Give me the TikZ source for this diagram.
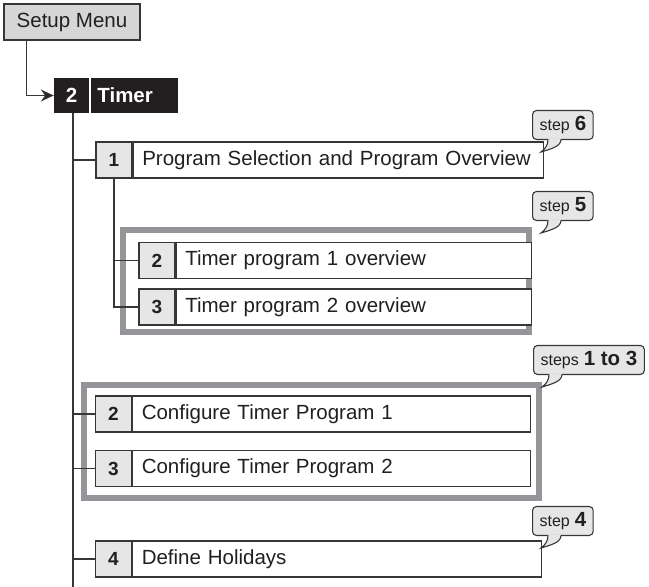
\documentclass[tikz,border=0pt]{standalone}
\usepackage{fontspec}
\setmainfont{Liberation Sans}
\usetikzlibrary{arrows.meta, positioning, calc}
\definecolor{menuInk}{RGB}{35,31,32}
\definecolor{menuLine}{RGB}{55,55,55}
\definecolor{menuCell}{RGB}{230,230,231}
\definecolor{menuGrey}{RGB}{214,214,214}
\definecolor{menuFrame}{RGB}{147,149,152}
\definecolor{menuBubble}{RGB}{230,230,230}

\begin{document}
\begin{tikzpicture}[x=1pt, y=-1pt,
      link/.style={draw=menuLine, line width=1.3pt},
      numcell/.style={draw=menuLine, line width=1.3pt, fill=menuCell, text=menuInk, minimum width=36pt, minimum height=36pt, inner sep=0pt, font=\fontsize{19}{20}\selectfont\bfseries},
      entry/.style={draw=menuLine, line width=1.3pt, fill=white, text=menuInk, minimum height=36pt, inner xsep=9pt, inner ysep=0pt, align=left, font=\fontsize{20.5}{24}\selectfont},
      frame/.style={draw=menuFrame, line width=6pt},
      bubble/.style={draw=menuLine, line width=1.1pt, fill=menuBubble, rounded corners=4pt, minimum height=29pt, inner xsep=7pt, inner ysep=0pt, anchor=south west, text=menuInk},
      tail/.style={draw=menuLine, line width=1.1pt}
    ]
    \useasboundingbox (0,0) rectangle (649,587);

    % menu head
    \node[draw=menuLine, line width=1.3pt, fill=menuGrey, text=menuInk, minimum width=136pt, minimum height=36pt, font=\fontsize{20.5}{24}\selectfont] (setup) at (72,22) {Setup Menu};
    \node[fill=menuInk, text=white, minimum width=35pt, minimum height=35pt, inner sep=0pt, font=\fontsize{20.5}{24}\selectfont\bfseries] (tnum) at (71.5,95.5) {2};
    \node[fill=menuInk, text=white, minimum height=35pt, inner xsep=6pt, inner ysep=0pt, text width=75pt, align=left, right=2pt of tnum, font=\fontsize{20.5}{24}\selectfont\bfseries] (tlab) {Timer};

    % frames round the grouped entries
    \node[numcell] (ov1) at (157,260.5) {2};
    \node[numcell] (ov2) at (157,307) {3};
    \node[numcell] (cfg1) at (113.5,414) {2};
    \node[numcell] (cfg2) at (113.5,468.5) {3};
    \draw[frame] ($(ov1.north west)+(-15,-12)$) rectangle ($(ov2.south west)+(391,6)$);
    \draw[frame] ($(cfg1.north west)+(-10.5,-10)$) rectangle ($(cfg2.south west)+(444.5,10.5)$);

    % tree lines
    \coordinate (trunkend) at (73,587);
    \draw[link, -{Stealth[length=13pt, width=12pt, fill=menuInk]}] ([xshift=23pt]setup.south west) |- (tnum.west);
    \draw[link] ([xshift=1.5pt]tnum.south) -- (trunkend);

    \node[numcell] (sel) at (114,160) {1};
    \node[numcell] (hol) at (113.5,559) {4};
    \foreach \n in {sel,cfg1,cfg2,hol}
      \draw[link] (trunkend |- \n.west) -- (\n.west);
    \draw[link] (sel.south) -- (sel.south |- ov2.west) -- (ov2.west);
    \draw[link] (sel.south |- ov1.west) -- (ov1.west);

    % entries
    \node[numcell] at (sel) {1};
    \node[numcell] at (ov1) {2};
    \node[numcell] at (ov2) {3};
    \node[numcell] at (cfg1) {2};
    \node[numcell] at (cfg2) {3};
    \node[numcell] at (hol) {4};
    \node[entry, right=0pt of sel, text width=392pt] (sellab) {Program Selection and Program Overview};
    \node[entry, right=0pt of ov1, text width=337pt] (ov1lab) {Timer program 1 overview};
    \node[entry, right=0pt of ov2, text width=337pt] (ov2lab) {Timer program 2 overview};
    \node[entry, right=0pt of cfg1, text width=380pt] (cfg1lab) {Configure Timer Program 1};
    \node[entry, right=0pt of cfg2, text width=380pt] (cfg2lab) {Configure Timer Program 2};
    \node[entry, right=0pt of hol, text width=391pt] (hollab) {Define Holidays};

    % step callouts
    \node[bubble] (tip6) at (532,140) {{\fontsize{16}{16}\selectfont step}\hspace{5pt}{\fontsize{20.5}{20}\selectfont\bfseries 6}};
    \node[bubble] (tip5) at (532,221) {{\fontsize{16}{16}\selectfont step}\hspace{5pt}{\fontsize{20.5}{20}\selectfont\bfseries 5}};
    \node[bubble] (tip13) at (533,375) {{\fontsize{16}{16}\selectfont steps}\hspace{5pt}{\fontsize{20.5}{20}\selectfont\bfseries 1 to 3}};
    \node[bubble] (tip4) at (532,536) {{\fontsize{16}{16}\selectfont step}\hspace{5pt}{\fontsize{20.5}{20}\selectfont\bfseries 4}};
    \foreach \b in {tip6,tip5,tip13,tip4} {
      \fill[menuBubble] ($(\b.south west)+(16,-1.6)$) .. controls +(0,6) and +(4,-3) .. ($(\b.south west)+(9,12)$) .. controls +(10,-3) and +(0,7) .. ($(\b.south west)+(29,-1.6)$) -- cycle;
      \draw[tail] ($(\b.south west)+(16,-0.6)$) .. controls +(0,6) and +(4,-3) .. ($(\b.south west)+(9,12)$) .. controls +(10,-3) and +(0,7) .. ($(\b.south west)+(29,-0.6)$);
    }
  \end{tikzpicture}
\end{document}
